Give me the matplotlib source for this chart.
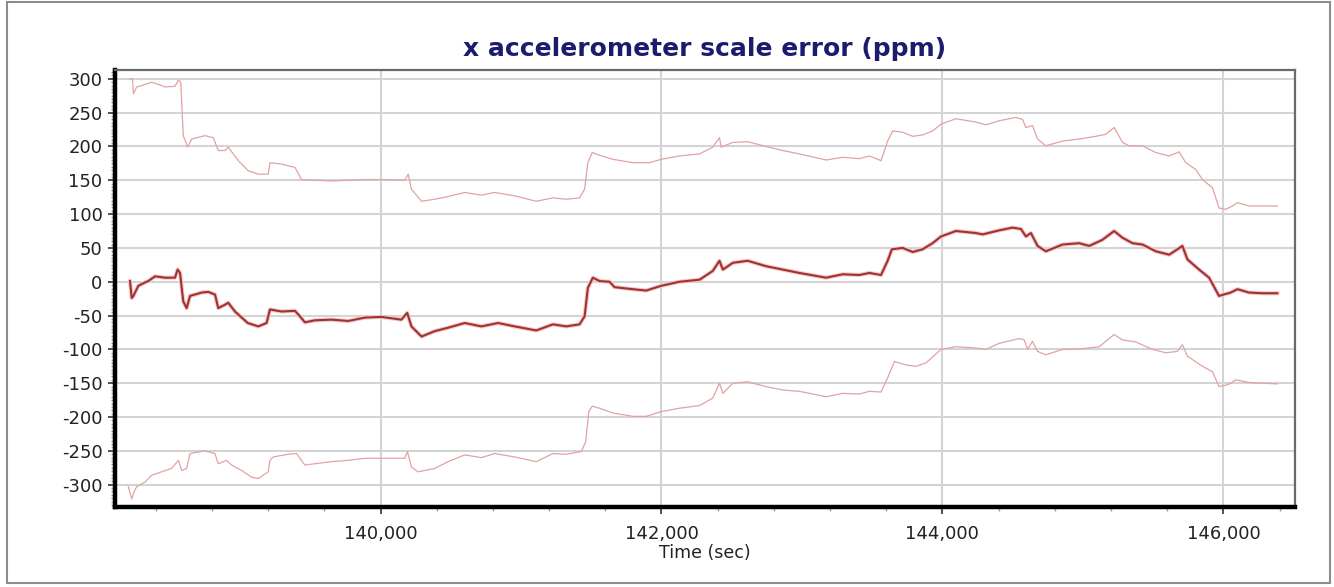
import matplotlib
matplotlib.use("Agg")
import matplotlib.pyplot as plt
from matplotlib.ticker import MultipleLocator, StrMethodFormatter
from matplotlib.patches import Rectangle

plt.rcParams['font.family'] = ['DejaVu Sans']
plt.rcParams['axes.unicode_minus'] = False

# ---- data (time in sec, scale error in ppm) ----
t_mid = [138217, 138229, 138241, 138276, 138324, 138347, 138395, 138466, 138537, 138556,
         138573, 138596, 138620, 138644, 138727, 138774, 138822, 138845, 138893, 138916,
         138964, 139055, 139130, 139189, 139213, 139296, 139391, 139426, 139462, 139533,
         139651, 139770, 139889, 140007, 140149, 140190, 140220, 140292, 140386, 140481,
         140600, 140718, 140837, 140955, 141109, 141227, 141322, 141417, 141453, 141476,
         141512, 141559, 141630, 141666, 141796, 141891, 141998, 142128, 142271, 142365,
         142413, 142437, 142508, 142614, 142745, 142863, 142982, 143172, 143290, 143409,
         143480, 143563, 143610, 143640, 143717, 143788, 143859, 143930, 143990, 144096,
         144239, 144286, 144404, 144499, 144559, 144594, 144630, 144677, 144736, 144855,
         144973, 145045, 145139, 145222, 145282, 145353, 145424, 145519, 145614, 145673,
         145708, 145744, 145827, 145898, 145969, 146017, 146052, 146100, 146183, 146278,
         146384]
v_mid = [1, -24, -21, -6, -1, 1, 8, 6, 6, 18,
         13, -29, -39, -21, -16, -15, -19, -39, -34, -31,
         -44, -61, -66, -61, -41, -44, -43, -51, -60, -57,
         -56, -58, -53, -52, -56, -46, -66, -81, -73, -68,
         -61, -66, -61, -66, -72, -63, -66, -63, -51, -9,
         6, 1, 0, -8, -11, -13, -6, 0, 3, 16,
         31, 18, 28, 31, 23, 18, 13, 6, 11, 10,
         13, 10, 31, 48, 50, 44, 48, 57, 67, 75,
         72, 70, 76, 80, 78, 67, 72, 53, 45, 55,
         57, 53, 62, 75, 65, 57, 55, 45, 40, 48,
         53, 33, 18, 6, -21, -18, -16, -11, -16, -17,
         -17]

t_up = [138215, 138235, 138241, 138264, 138300, 138371, 138442, 138466, 138537, 138561,
        138578, 138596, 138627, 138656, 138751, 138810, 138845, 138893, 138916, 138988,
        139059, 139130, 139201, 139213, 139296, 139391, 139438, 139533, 139651, 139770,
        139889, 140007, 140173, 140197, 140220, 140292, 140386, 140481, 140600, 140718,
        140813, 140955, 141109, 141227, 141322, 141417, 141453, 141476, 141507, 141559,
        141654, 141796, 141915, 141998, 142128, 142271, 142365, 142413, 142425, 142508,
        142614, 142745, 142863, 142982, 143172, 143290, 143409, 143480, 143563, 143610,
        143646, 143717, 143788, 143859, 143930, 143990, 144096, 144239, 144310, 144404,
        144523, 144570, 144594, 144641, 144677, 144736, 144855, 144973, 145092, 145163,
        145222, 145282, 145329, 145424, 145519, 145614, 145685, 145732, 145803, 145851,
        145922, 145969, 146017, 146064, 146100, 146183, 146384]
v_up = [300, 300, 278, 288, 290, 295, 290, 288, 289, 298,
        295, 216, 199, 211, 216, 213, 194, 194, 199, 179,
        164, 159, 159, 176, 174, 169, 151, 150, 149, 150,
        151, 151, 150, 159, 137, 119, 122, 126, 132, 128,
        132, 127, 119, 124, 122, 124, 137, 176, 191, 187,
        181, 176, 176, 181, 186, 189, 199, 213, 199, 206,
        207, 200, 194, 189, 180, 184, 182, 186, 179, 208,
        223, 221, 215, 217, 223, 233, 241, 236, 232, 238,
        243, 240, 228, 231, 211, 201, 208, 211, 215, 218,
        228, 206, 201, 201, 191, 186, 192, 176, 166, 151,
        139, 109, 107, 112, 117, 112, 112]

t_lo = [138205, 138229, 138245, 138264, 138324, 138371, 138442, 138513, 138561, 138585,
        138620, 138644, 138751, 138822, 138845, 138904, 138940, 139011, 139083, 139130,
        139201, 139213, 139237, 139343, 139402, 139462, 139533, 139651, 139770, 139889,
        140007, 140173, 140192, 140220, 140268, 140386, 140481, 140600, 140718, 140813,
        140955, 141109, 141227, 141322, 141429, 141460, 141483, 141507, 141559, 141654,
        141796, 141891, 141998, 142128, 142271, 142365, 142413, 142437, 142508, 142614,
        142745, 142863, 142982, 143172, 143290, 143409, 143480, 143563, 143610, 143658,
        143741, 143812, 143883, 143990, 144096, 144239, 144310, 144404, 144547, 144582,
        144606, 144641, 144677, 144736, 144855, 144997, 145116, 145222, 145282, 145376,
        145495, 145590, 145673, 145708, 145744, 145851, 145922, 145969, 146017, 146052,
        146088, 146183, 146384]
v_lo = [-303, -321, -311, -303, -296, -286, -281, -276, -264, -279,
        -276, -254, -250, -254, -269, -264, -271, -279, -289, -291,
        -281, -264, -259, -255, -254, -271, -269, -266, -264, -261,
        -261, -261, -251, -274, -281, -276, -266, -256, -260, -254,
        -259, -266, -254, -255, -251, -237, -192, -184, -187, -194,
        -199, -199, -192, -187, -183, -172, -150, -165, -150, -148,
        -155, -160, -162, -170, -165, -166, -162, -163, -142, -118,
        -123, -125, -120, -100, -96, -98, -100, -91, -84, -86,
        -100, -88, -103, -108, -100, -99, -96, -78, -86, -89,
        -100, -105, -103, -93, -110, -125, -133, -155, -153, -150,
        -145, -149, -151]

x_major = [140000, 142000, 144000, 146000]
y_major = [-300, -250, -200, -150, -100, -50, 0, 50, 100, 150, 200, 250, 300]
title_text = "x accelerometer scale error (ppm)"
xlabel_text = "Time (sec)"

# ---- figure ----
fig = plt.figure(figsize=(13.34, 5.87), dpi=100)
fig.patch.set_facecolor('white')
fig.patches.append(Rectangle((0.0055, 0.007), 0.9915, 0.989, transform=fig.transFigure,
                             fill=False, edgecolor='#8c8c8c', linewidth=1.5))

ax = fig.add_axes([0.0862, 0.1363, 0.8846, 0.7444])
ax.set_xlim(138110, 146510)
ax.set_ylim(-333, 313)

ax.plot(t_up, v_up, color='#e2a2a2', lw=0.9, zorder=3)
ax.plot(t_lo, v_lo, color='#e2a2a2', lw=0.9, zorder=3)
ax.plot(t_mid, v_mid, color='#f5c6c6', lw=3.0, zorder=3, solid_joinstyle='round')
ax.plot(t_mid, v_mid, color='#a03232', lw=1.5, zorder=4, solid_joinstyle='round')

ax.set_xticks(x_major)
ax.xaxis.set_minor_locator(MultipleLocator(400))
ax.xaxis.set_major_formatter(StrMethodFormatter('{x:,.0f}'))
ax.set_yticks(y_major)
ax.yaxis.set_minor_locator(MultipleLocator(5))

ax.grid(True, which='major', color='#d4d4d4', lw=1.5, zorder=0)
ax.set_axisbelow(True)

ax.tick_params(axis='both', which='major', labelsize=13, colors='#333333',
               labelcolor='#222222', length=5, width=1.2, direction='out')
ax.tick_params(axis='both', which='minor', colors='#999999', length=3, width=1.0)
ax.tick_params(axis='x', pad=8)
ax.tick_params(axis='y', pad=4)

for side in ['left', 'bottom']:
    ax.spines[side].set_color('black')
    ax.spines[side].set_linewidth(3.2)
for side in ['top', 'right']:
    ax.spines[side].set_color('#6a6a6a')
    ax.spines[side].set_linewidth(1.6)

ax.set_title(title_text, fontsize=18, fontweight='bold', color='#1c1c6e', pad=10)
ax.set_xlabel(xlabel_text, fontsize=12.5, color='#222222', labelpad=1)

fig.savefig('out.png', dpi=100, facecolor='white')
